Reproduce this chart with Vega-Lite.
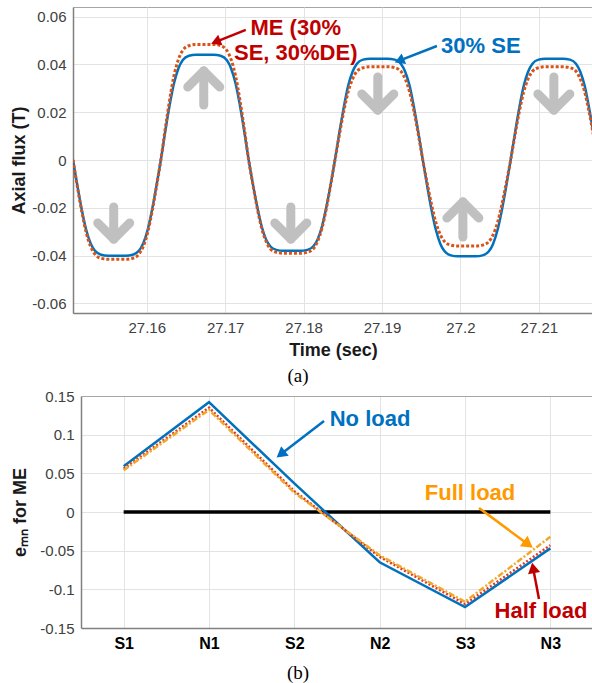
{
  "$schema": "https://vega.github.io/schema/vega-lite/v6.json",
  "padding": {"left": 10, "top": 6, "right": 0, "bottom": 0},
  "spacing": 2,
  "background": "white",
  "config": {
    "font": "Liberation Sans",
    "view": {"stroke": "#a6a6a6", "strokeWidth": 1},
    "axis": {"labelFont": "Liberation Sans", "labelFontSize": 15, "labelColor": "#404040", "gridColor": "#e3e3e3", "gridWidth": 1, "domainColor": "#808080", "domainWidth": 1.5, "tickSize": 0, "labelPadding": 7, "titleFont": "Liberation Sans", "titleFontSize": 18, "titleFontWeight": "bold", "titleColor": "#1a1a1a"}
  },
  "datasets": {
    "flux": [
      {"t":27.1506,"se":0,"me":0},{"t":27.15116,"se":-0.0108,"me":-0.0112},{"t":27.15172,"se":-0.0208,"me":-0.0216},{"t":27.15228,"se":-0.0292,"me":-0.0303},{"t":27.15284,"se":-0.0348,"me":-0.0361},{"t":27.1534,"se":-0.038,"me":-0.0394},{"t":27.15418,"se":-0.0396,"me":-0.0411},{"t":27.15508,"se":-0.04,"me":-0.0415},{"t":27.1562,"se":-0.04,"me":-0.0415},{"t":27.15732,"se":-0.04,"me":-0.0415},{"t":27.15822,"se":-0.0396,"me":-0.0411},{"t":27.159,"se":-0.038,"me":-0.0394},{"t":27.15956,"se":-0.0348,"me":-0.0361},{"t":27.16012,"se":-0.0292,"me":-0.0303},{"t":27.16068,"se":-0.0208,"me":-0.0216},{"t":27.16124,"se":-0.0108,"me":-0.0112},
      {"t":27.1618,"se":0,"me":0},{"t":27.16236,"se":0.0119,"me":0.013},{"t":27.16292,"se":0.0229,"me":0.0251},{"t":27.16348,"se":0.0321,"me":0.0353},{"t":27.16404,"se":0.0383,"me":0.042},{"t":27.1646,"se":0.0418,"me":0.0459},{"t":27.16538,"se":0.0436,"me":0.0478},{"t":27.16628,"se":0.044,"me":0.0483},{"t":27.1674,"se":0.044,"me":0.0483},{"t":27.16852,"se":0.044,"me":0.0483},{"t":27.16942,"se":0.0436,"me":0.0478},{"t":27.1702,"se":0.0418,"me":0.0459},{"t":27.17076,"se":0.0383,"me":0.042},{"t":27.17132,"se":0.0321,"me":0.0353},{"t":27.17188,"se":0.0229,"me":0.0251},{"t":27.17244,"se":0.0119,"me":0.013},
      {"t":27.173,"se":0,"me":0},{"t":27.17355,"se":-0.0103,"me":-0.0105},{"t":27.1741,"se":-0.0198,"me":-0.0203},{"t":27.17465,"se":-0.0277,"me":-0.0285},{"t":27.1752,"se":-0.0331,"me":-0.0339},{"t":27.17575,"se":-0.0361,"me":-0.0371},{"t":27.17652,"se":-0.0376,"me":-0.0386},{"t":27.1774,"se":-0.038,"me":-0.039},{"t":27.1785,"se":-0.038,"me":-0.039},{"t":27.1796,"se":-0.038,"me":-0.039},{"t":27.18048,"se":-0.0376,"me":-0.0386},{"t":27.18125,"se":-0.0361,"me":-0.0371},{"t":27.1818,"se":-0.0331,"me":-0.0339},{"t":27.18235,"se":-0.0277,"me":-0.0285},{"t":27.1829,"se":-0.0198,"me":-0.0203},{"t":27.18345,"se":-0.0103,"me":-0.0105},
      {"t":27.184,"se":0,"me":0},{"t":27.18456,"se":0.0114,"me":0.0105},{"t":27.18512,"se":0.022,"me":0.0203},{"t":27.18568,"se":0.031,"me":0.0285},{"t":27.18624,"se":0.0369,"me":0.0339},{"t":27.1868,"se":0.0403,"me":0.0371},{"t":27.18758,"se":0.042,"me":0.0386},{"t":27.18848,"se":0.0424,"me":0.039},{"t":27.1896,"se":0.0424,"me":0.039},{"t":27.19072,"se":0.0424,"me":0.039},{"t":27.19162,"se":0.042,"me":0.0386},{"t":27.1924,"se":0.0403,"me":0.0371},{"t":27.19296,"se":0.0369,"me":0.0339},{"t":27.19352,"se":0.031,"me":0.0285},{"t":27.19408,"se":0.022,"me":0.0203},{"t":27.19464,"se":0.0114,"me":0.0105},
      {"t":27.1952,"se":0,"me":0},{"t":27.19576,"se":-0.0109,"me":-0.0097},{"t":27.19632,"se":-0.021,"me":-0.0187},{"t":27.19688,"se":-0.0294,"me":-0.0263},{"t":27.19744,"se":-0.0351,"me":-0.0313},{"t":27.198,"se":-0.0383,"me":-0.0342},{"t":27.19878,"se":-0.0399,"me":-0.0356},{"t":27.19968,"se":-0.0403,"me":-0.036},{"t":27.2008,"se":-0.0403,"me":-0.036},{"t":27.20192,"se":-0.0403,"me":-0.036},{"t":27.20282,"se":-0.0399,"me":-0.0356},{"t":27.2036,"se":-0.0383,"me":-0.0342},{"t":27.20416,"se":-0.0351,"me":-0.0313},{"t":27.20472,"se":-0.0294,"me":-0.0263},{"t":27.20528,"se":-0.021,"me":-0.0187},{"t":27.20584,"se":-0.0109,"me":-0.0097},
      {"t":27.2064,"se":0,"me":0},{"t":27.20696,"se":0.0114,"me":0.0105},{"t":27.20751,"se":0.022,"me":0.0203},{"t":27.20807,"se":0.031,"me":0.0285},{"t":27.20862,"se":0.0369,"me":0.0339},{"t":27.20918,"se":0.0403,"me":0.0371},{"t":27.20995,"se":0.042,"me":0.0386},{"t":27.21084,"se":0.0424,"me":0.039},{"t":27.21195,"se":0.0424,"me":0.039},{"t":27.21306,"se":0.0424,"me":0.039},{"t":27.21395,"se":0.042,"me":0.0386},{"t":27.21473,"se":0.0403,"me":0.0371},{"t":27.21528,"se":0.0369,"me":0.0339},{"t":27.21584,"se":0.031,"me":0.0285},{"t":27.21639,"se":0.022,"me":0.0203},{"t":27.21695,"se":0.0114,"me":0.0105},{"t":27.2175,"se":0,"me":0}
    ],
    "emn": [
      {"pos":1,"cat":"S1","load":"No load","e":0.059},{"pos":2,"cat":"N1","load":"No load","e":0.142},{"pos":3,"cat":"S2","load":"No load","e":0.037},{"pos":4,"cat":"N2","load":"No load","e":-0.065},{"pos":5,"cat":"S3","load":"No load","e":-0.123},{"pos":6,"cat":"N3","load":"No load","e":-0.047},
      {"pos":1,"cat":"S1","load":"Half load","e":0.056},{"pos":2,"cat":"N1","load":"Half load","e":0.135},{"pos":3,"cat":"S2","load":"Half load","e":0.027},{"pos":4,"cat":"N2","load":"Half load","e":-0.058},{"pos":5,"cat":"S3","load":"Half load","e":-0.119},{"pos":6,"cat":"N3","load":"Half load","e":-0.043},
      {"pos":1,"cat":"S1","load":"Full load","e":0.054},{"pos":2,"cat":"N1","load":"Full load","e":0.132},{"pos":3,"cat":"S2","load":"Full load","e":0.025},{"pos":4,"cat":"N2","load":"Full load","e":-0.056},{"pos":5,"cat":"S3","load":"Full load","e":-0.116},{"pos":6,"cat":"N3","load":"Full load","e":-0.032}
    ]
  },
  "vconcat": [
    {
      "width": 520,
      "height": 306,
      "title": {"text": "(a)", "orient": "bottom", "anchor": "middle", "font": "Liberation Serif", "fontSize": 19, "fontWeight": "normal", "color": "#000000", "offset": 8, "dx": -35},
      "layer": [
        {
          "data": {"values": [
            {"x":27.15579,"y":-0.01966,"x2":27.15579,"y2":-0.03305},{"x":27.15579,"y":-0.03305,"x2":27.15375,"y2":-0.02635},{"x":27.15579,"y":-0.03305,"x2":27.15783,"y2":-0.02635},
            {"x":27.16727,"y":0.02301,"x2":27.16727,"y2":0.03723},{"x":27.16727,"y":0.03723,"x2":27.16523,"y2":0.03054},{"x":27.16727,"y":0.03723,"x2":27.16931,"y2":0.03054},
            {"x":27.17837,"y":-0.01966,"x2":27.17837,"y2":-0.03305},{"x":27.17837,"y":-0.03305,"x2":27.17633,"y2":-0.02635},{"x":27.17837,"y":-0.03305,"x2":27.18041,"y2":-0.02635},
            {"x":27.18946,"y":0.03472,"x2":27.18946,"y2":0.02091},{"x":27.18946,"y":0.02091,"x2":27.18742,"y2":0.02761},{"x":27.18946,"y":0.02091,"x2":27.1915,"y2":0.02761},
            {"x":27.20031,"y":-0.03221,"x2":27.20031,"y2":-0.01757},{"x":27.20031,"y":-0.01757,"x2":27.19827,"y2":-0.02426},{"x":27.20031,"y":-0.01757,"x2":27.20235,"y2":-0.02426},
            {"x":27.21191,"y":0.03472,"x2":27.21191,"y2":0.02091},{"x":27.21191,"y":0.02091,"x2":27.20987,"y2":0.02761},{"x":27.21191,"y":0.02091,"x2":27.21395,"y2":0.02761}
          ]},
          "mark": {"type": "rule", "color": "#c0c0c0", "strokeWidth": 9, "strokeCap": "round"},
          "encoding": {
            "x": {"field": "x", "type": "quantitative", "scale": {"domain": [27.1506, 27.2169], "nice": false, "zero": false},
                  "axis": {"values": [27.16, 27.17, 27.18, 27.19, 27.2, 27.21], "labelExpr": "format(datum.value, '.2~f')", "title": "Time (sec)", "titlePadding": 6}},
            "y": {"field": "y", "type": "quantitative", "scale": {"domain": [-0.064, 0.064], "nice": false, "zero": false},
                  "axis": {"values": [-0.06, -0.04, -0.02, 0, 0.02, 0.04, 0.06], "labelExpr": "replace(format(datum.value, '.2~f'), '−', '-')", "title": "Axial flux (T)", "titlePadding": 3}},
            "x2": {"field": "x2"},
            "y2": {"field": "y2"}
          }
        },
        {
          "data": {"name": "flux"},
          "mark": {"type": "line", "color": "#0072bd", "strokeWidth": 2.5, "interpolate": "monotone", "clip": true},
          "encoding": {"x": {"field": "t", "type": "quantitative"}, "y": {"field": "se", "type": "quantitative"}}
        },
        {
          "data": {"name": "flux"},
          "mark": {"type": "line", "color": "#d95319", "strokeWidth": 3, "strokeDash": [3, 2], "interpolate": "monotone", "clip": true},
          "encoding": {"x": {"field": "t", "type": "quantitative"}, "y": {"field": "me", "type": "quantitative"}}
        },
        {
          "data": {"values": [{"x": 27.17263, "y": 0.0544, "x2": 27.1688, "y2": 0.0494}]},
          "mark": {"type": "rule", "color": "#c00000", "strokeWidth": 2.5},
          "encoding": {"x": {"field": "x", "type": "quantitative"}, "y": {"field": "y", "type": "quantitative"}, "x2": {"field": "x2"}, "y2": {"field": "y2"}}
        },
        {
          "data": {"values": [{"x": 27.1688, "y": 0.0494}]},
          "mark": {"type": "point", "shape": "triangle-up", "angle": 248, "size": 130, "filled": true, "opacity": 1, "color": "#c00000"},
          "encoding": {"x": {"field": "x", "type": "quantitative"}, "y": {"field": "y", "type": "quantitative"}}
        },
        {
          "data": {"values": [{"x": 27.179, "y": 0.0552, "label": "ME (30%\nSE, 30%DE)"}]},
          "mark": {"type": "text", "lineBreak": "\n", "lineHeight": 25, "fontSize": 22, "fontWeight": "bold", "color": "#c00000", "align": "center", "baseline": "middle"},
          "encoding": {"x": {"field": "x", "type": "quantitative"}, "y": {"field": "y", "type": "quantitative"}, "text": {"field": "label"}}
        },
        {
          "data": {"values": [{"x": 27.197, "y": 0.0477, "x2": 27.19221, "y2": 0.04154}]},
          "mark": {"type": "rule", "color": "#0070c0", "strokeWidth": 2.5},
          "encoding": {"x": {"field": "x", "type": "quantitative"}, "y": {"field": "y", "type": "quantitative"}, "x2": {"field": "x2"}, "y2": {"field": "y2"}}
        },
        {
          "data": {"values": [{"x": 27.19221, "y": 0.04154}]},
          "mark": {"type": "point", "shape": "triangle-up", "angle": 247, "size": 130, "filled": true, "opacity": 1, "color": "#0070c0"},
          "encoding": {"x": {"field": "x", "type": "quantitative"}, "y": {"field": "y", "type": "quantitative"}}
        },
        {
          "data": {"values": [{"x": 27.2026, "y": 0.0477, "label": "30% SE"}]},
          "mark": {"type": "text", "fontSize": 22, "fontWeight": "bold", "color": "#0070c0", "align": "center", "baseline": "middle"},
          "encoding": {"x": {"field": "x", "type": "quantitative"}, "y": {"field": "y", "type": "quantitative"}, "text": {"field": "label"}}
        }
      ]
    },
    {
      "width": 520,
      "height": 232,
      "title": {"text": "(b)", "orient": "bottom", "anchor": "middle", "font": "Liberation Serif", "fontSize": 19, "fontWeight": "normal", "color": "#000000", "offset": 13, "dx": -35},
      "view": {"stroke": null},
      "resolve": {"axis": {"x": "independent", "y": "independent"}},
      "layer": [
        {
          "data": {"values": [{"pos": 1, "e": 0}, {"pos": 6, "e": 0}]},
          "mark": {"type": "line", "color": "#000000", "strokeWidth": 3.5},
          "encoding": {
            "x": {"field": "pos", "type": "quantitative", "scale": {"domain": [0.5, 6.5], "range": [8, 520], "nice": false, "zero": false},
                  "axis": {"values": [1, 2, 3, 4, 5, 6], "labelExpr": "['', 'S1', 'N1', 'S2', 'N2', 'S3', 'N3'][datum.value]", "labelFontWeight": "bold", "labelFontSize": 16, "labelColor": "#000000", "title": null, "labelPadding": 7}},
            "y": {"field": "e", "type": "quantitative", "scale": {"domain": [-0.15, 0.15], "nice": false, "zero": false},
                  "axis": {"values": [-0.15, -0.1, -0.05, 0, 0.05, 0.1, 0.15], "labelExpr": "replace(format(datum.value, '.2~f'), '−', '-')", "title": "eₘₙ for ME", "offset": -8, "titlePadding": 10}}
          }
        },
        {
          "data": {"values": [{"pos": 1, "e": 0}, {"pos": 6, "e": 0}]},
          "mark": {"type": "line", "opacity": 0},
          "encoding": {
            "x": {"field": "pos", "type": "quantitative", "axis": {"orient": "top", "labels": false, "ticks": false, "grid": false, "domain": true, "domainColor": "#a6a6a6", "domainWidth": 1, "title": null}},
            "y": {"field": "e", "type": "quantitative", "axis": {"orient": "right", "labels": false, "ticks": false, "grid": false, "domain": true, "domainColor": "#a6a6a6", "domainWidth": 1, "title": null}}
          }
        },
        {
          "data": {"name": "emn"},
          "transform": [{"filter": "datum.load == 'No load'"}],
          "mark": {"type": "line", "color": "#0072bd", "strokeWidth": 2.5},
          "encoding": {"x": {"field": "pos", "type": "quantitative", "axis": null}, "y": {"field": "e", "type": "quantitative", "axis": null}}
        },
        {
          "data": {"name": "emn"},
          "transform": [{"filter": "datum.load == 'Half load'"}],
          "mark": {"type": "line", "color": "#e03a24", "strokeWidth": 2.5, "strokeDash": [2, 2]},
          "encoding": {"x": {"field": "pos", "type": "quantitative", "axis": null}, "y": {"field": "e", "type": "quantitative", "axis": null}}
        },
        {
          "data": {"name": "emn"},
          "transform": [{"filter": "datum.load == 'Full load'"}],
          "mark": {"type": "line", "color": "#f0a92a", "strokeWidth": 2.5, "strokeDash": [6, 2, 2, 2]},
          "encoding": {"x": {"field": "pos", "type": "quantitative", "axis": null}, "y": {"field": "e", "type": "quantitative", "axis": null}}
        },
        {
          "data": {"values": [{"x": 3.348, "y": 0.1177, "x2": 2.841, "y2": 0.0746}]},
          "mark": {"type": "rule", "color": "#0070c0", "strokeWidth": 2.5},
          "encoding": {"x": {"field": "x", "type": "quantitative", "axis": null}, "y": {"field": "y", "type": "quantitative", "axis": null}, "x2": {"field": "x2"}, "y2": {"field": "y2"}}
        },
        {
          "data": {"values": [{"x": 2.841, "y": 0.0746}]},
          "mark": {"type": "point", "shape": "triangle-up", "angle": 232, "size": 150, "filled": true, "opacity": 1, "color": "#0070c0"},
          "encoding": {"x": {"field": "x", "type": "quantitative", "axis": null}, "y": {"field": "y", "type": "quantitative", "axis": null}}
        },
        {
          "data": {"values": [{"x": 3.887, "y": 0.1203, "label": "No load"}]},
          "mark": {"type": "text", "fontSize": 22, "fontWeight": "bold", "color": "#0070c0", "align": "center", "baseline": "middle"},
          "encoding": {"x": {"field": "x", "type": "quantitative", "axis": null}, "y": {"field": "y", "type": "quantitative", "axis": null}, "text": {"field": "label"}}
        },
        {
          "data": {"values": [{"x": 5.164, "y": 0.0052, "x2": 5.741, "y2": -0.0419}]},
          "mark": {"type": "rule", "color": "#ff9900", "strokeWidth": 2.5},
          "encoding": {"x": {"field": "x", "type": "quantitative", "axis": null}, "y": {"field": "y", "type": "quantitative", "axis": null}, "x2": {"field": "x2"}, "y2": {"field": "y2"}}
        },
        {
          "data": {"values": [{"x": 5.741, "y": -0.0419}]},
          "mark": {"type": "point", "shape": "triangle-up", "angle": 126.5, "size": 170, "filled": true, "opacity": 1, "color": "#ff9900"},
          "encoding": {"x": {"field": "x", "type": "quantitative", "axis": null}, "y": {"field": "y", "type": "quantitative", "axis": null}}
        },
        {
          "data": {"values": [{"x": 5.059, "y": 0.0246, "label": "Full load"}]},
          "mark": {"type": "text", "fontSize": 22, "fontWeight": "bold", "color": "#ff9900", "align": "center", "baseline": "middle"},
          "encoding": {"x": {"field": "x", "type": "quantitative", "axis": null}, "y": {"field": "y", "type": "quantitative", "axis": null}, "text": {"field": "label"}}
        },
        {
          "data": {"values": [{"x": 5.867, "y": -0.1125, "x2": 5.798, "y2": -0.0723}]},
          "mark": {"type": "rule", "color": "#c00000", "strokeWidth": 2.5},
          "encoding": {"x": {"field": "x", "type": "quantitative", "axis": null}, "y": {"field": "y", "type": "quantitative", "axis": null}, "x2": {"field": "x2"}, "y2": {"field": "y2"}}
        },
        {
          "data": {"values": [{"x": 5.798, "y": -0.0723}]},
          "mark": {"type": "point", "shape": "triangle-up", "angle": 349, "size": 150, "filled": true, "opacity": 1, "color": "#c00000"},
          "encoding": {"x": {"field": "x", "type": "quantitative", "axis": null}, "y": {"field": "y", "type": "quantitative", "axis": null}}
        },
        {
          "data": {"values": [{"x": 5.891, "y": -0.128, "label": "Half load"}]},
          "mark": {"type": "text", "fontSize": 22, "fontWeight": "bold", "color": "#c00000", "align": "center", "baseline": "middle"},
          "encoding": {"x": {"field": "x", "type": "quantitative", "axis": null}, "y": {"field": "y", "type": "quantitative", "axis": null}, "text": {"field": "label"}}
        }
      ]
    }
  ]
}
